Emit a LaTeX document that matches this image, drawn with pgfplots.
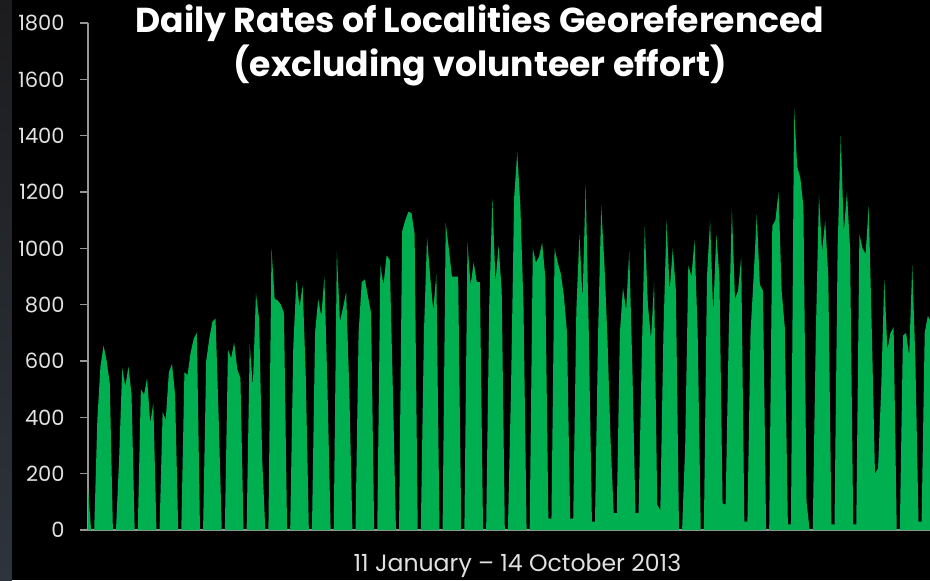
\documentclass[border=0pt]{standalone}
\usepackage{fontspec}
\setmainfont{Poppins}
\usepackage{pgfplots}
\pgfplotsset{compat=1.18}
\definecolor{areagreen}{RGB}{0,176,80}
\definecolor{axisgray}{RGB}{150,150,150}
\definecolor{labelgray}{RGB}{225,225,225}
\definecolor{stripT}{RGB}{28,28,30}
\definecolor{stripB}{RGB}{46,52,60}

\begin{document}
\begin{tikzpicture}
% page = 930x580 px at 0.5pt per px, axis origin at px (88,530)
\path[use as bounding box] (-44pt,-25pt) rectangle (421pt,265pt);
\clip (-44pt,-25pt) rectangle (421pt,265pt);
\fill[black] (-44pt,-25pt) rectangle (421pt,265pt);
\shade[top color=stripT, bottom color=stripB] (-44pt,-25pt) rectangle (-38pt,265pt);

\begin{axis}[
    at={(0pt,0pt)}, anchor=south west,
    scale only axis,
    width=421pt, height=253.5pt,
    xmin=0, xmax=270.7,
    ymin=0, ymax=1800,
    axis x line=bottom, axis y line=left,
    axis line style={-, axisgray, line width=0.8pt},
    xtick=\empty,
    ytick={0,200,...,1800},
    tick align=outside,
    major tick length=4pt,
    tick style={axisgray, line width=0.8pt},
    yticklabel style={font=\fontsize{10.5}{12}\selectfont, text=labelgray, inner sep=0pt, xshift=-7.5pt},
    /pgf/number format/assume math mode=true,
    /pgf/number format/1000 sep={},
    xlabel={11 January – 14 October 2013},
    xlabel style={font=\fontsize{11.8}{14}\selectfont, text=labelgray, at={(axis description cs:0.51,0)}, anchor=base, yshift=-20.5pt},
]
\addplot[draw=none, fill=areagreen] coordinates {
(0,150) (1,0) (2,0)
(3,390) (4,580) (5,655) (6,600) (7,520) (8,0) (9,0)
(10,250) (11,575) (12,510) (13,580) (14,480) (15,0) (16,0)
(17,500) (18,480) (19,540) (20,380) (21,450) (22,0) (23,0)
(24,420) (25,390) (26,560) (27,590) (28,480) (29,0) (30,0)
(31,560) (32,550) (33,630) (34,680) (35,700) (36,0) (37,0)
(38,600) (39,680) (40,740) (41,750) (42,400) (43,0) (44,0)
(45,640) (46,610) (47,665) (48,570) (49,540) (50,0) (51,0)
(52,660) (53,510) (54,840) (55,750) (56,250) (57,0) (58,0)
(59,1000) (60,820) (61,815) (62,800) (63,770) (64,0) (65,0)
(66,650) (67,890) (68,790) (69,870) (70,550) (71,0) (72,0)
(73,700) (74,820) (75,760) (76,900) (77,500) (78,0) (79,0)
(80,990) (81,740) (82,790) (83,845) (84,500) (85,0) (86,0)
(87,700) (88,880) (89,890) (90,830) (91,770) (92,0) (93,0)
(94,940) (95,870) (96,975) (97,960) (98,500) (99,0) (100,0)
(101,1060) (102,1100) (103,1130) (104,1125) (105,1050) (106,0) (107,0)
(108,700) (109,1040) (110,900) (111,780) (112,910) (113,0) (114,0)
(115,1090) (116,1000) (117,900) (118,900) (119,900) (120,0) (121,0)
(122,1020) (123,870) (124,950) (125,880) (126,880) (127,0) (128,0)
(129,800) (130,1180) (131,880) (132,1010) (133,850) (134,0) (135,0)
(136,500) (137,1180) (138,1340) (139,1150) (140,800) (141,0) (142,0)
(143,1000) (144,950) (145,970) (146,1020) (147,900) (148,40) (149,40)
(150,1000) (151,950) (152,910) (153,830) (154,700) (155,40) (156,40)
(157,780) (158,1050) (159,820) (160,1230) (161,700) (162,30) (163,30)
(164,700) (165,1150) (166,950) (167,680) (168,320) (169,60) (170,60)
(171,700) (172,860) (173,780) (174,990) (175,580) (176,60) (177,60)
(178,600) (179,1080) (180,800) (181,680) (182,880) (183,90) (184,70)
(185,700) (186,1100) (187,850) (188,1000) (189,850) (190,0) (191,0)
(192,300) (193,940) (194,900) (195,1030) (196,700) (197,0) (198,0)
(199,900) (200,1100) (201,770) (202,1050) (203,900) (204,95) (205,90)
(206,700) (207,1140) (208,820) (209,850) (210,970) (211,30) (212,30)
(213,700) (214,900) (215,1120) (216,870) (217,850) (218,0) (219,0)
(220,1080) (221,1100) (222,1200) (223,850) (224,720) (225,20) (226,20)
(227,1500) (228,1290) (229,1250) (230,1150) (231,100) (232,0) (233,0)
(234,700) (235,1190) (236,990) (237,1100) (238,900) (239,20) (240,20)
(241,1000) (242,1400) (243,1060) (244,1200) (245,1000) (246,20) (247,20)
(248,1050) (249,1000) (250,980) (251,1150) (252,700) (253,200) (254,220)
(255,500) (256,890) (257,640) (258,700) (259,720) (260,0) (261,0)
(262,690) (263,700) (264,620) (265,940) (266,600) (267,30) (268,30)
(269,700) (270,760) (271,740) (272,700) (273,650)
} \closedcycle;
\end{axis}

\node[anchor=base, text=white, font=\fontsize{17.3}{20}\selectfont\bfseries] at (196pt,248.5pt) {Daily Rates of Localities Georeferenced};
\node[anchor=base, text=white, font=\fontsize{17.3}{20}\selectfont\bfseries] at (196pt,227pt) {(excluding volunteer effort)};
\end{tikzpicture}
\end{document}
